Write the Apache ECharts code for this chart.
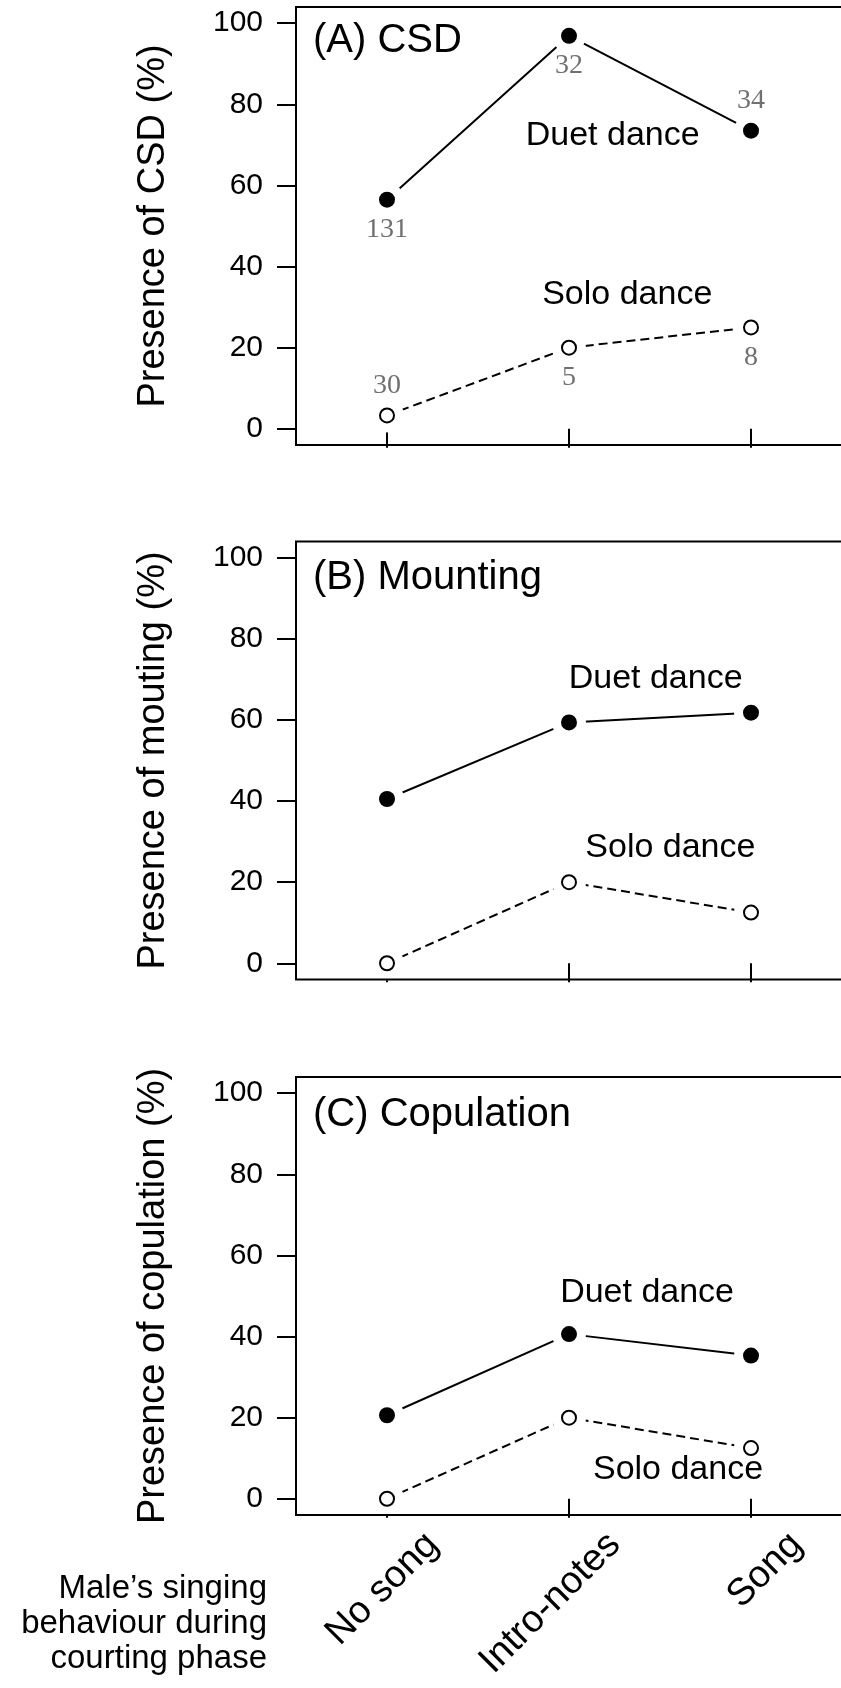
<!DOCTYPE html>
<html lang="en">
<head>
<meta charset="UTF-8">
<title>Courtship dance vs male singing</title>
<style>
  html, body { margin: 0; padding: 0; background: #fff; }
  #chart { width: 841px; height: 1688px; }
</style>
</head>
<body>
<div id="chart"></div>
<script src="https://cdn.jsdelivr.net/npm/echarts@6/dist/echarts.min.js"></script>
<script>
var categories = ['No song', 'Intro-notes', 'Song'];
var yTicks = [0, 20, 40, 60, 80, 100];

// (A) CSD
var csdDuet = [56.5, 96.9, 73.5];
var csdSolo = [3.3, 20, 25];
var csdDuetN = [131, 32, 34];   // sample sizes, grey numbers
var csdSoloN = [30, 5, 8];
// (B) Mounting
var mountDuet = [40.5, 59.4, 61.8];
var mountSolo = [0, 20, 12.5];
// (C) Copulation
var copDuet = [20.6, 40.6, 35.3];
var copSolo = [0, 20, 12.5];

var SANS = '"Liberation Sans", Arial, Helvetica, sans-serif';
var SERIF = '"Liberation Serif", "Times New Roman", serif';

// layout only
var panels = [
  { title: '(A) CSD', yName: 'Presence of CSD (%)', duet: csdDuet, solo: csdSolo,
    duetN: csdDuetN, soloN: csdSoloN, top: 7, titleY: 41,
    duetText: [2.24, 72.4], soloText: [2.32, 33.0] },
  { title: '(B) Mounting', yName: 'Presence of mouting (%)', duet: mountDuet, solo: mountSolo,
    top: 541.5, titleY: 578,
    duetText: [2.476, 70.3], soloText: [2.557, 28.4] },
  { title: '(C) Copulation', yName: 'Presence of copulation (%)', duet: copDuet, solo: copSolo,
    top: 1077, titleY: 1115,
    duetText: [2.429, 50.8], soloText: [2.599, 7.2] }
];
var duetNPos = ['bottom', 'bottom', 'top'];
var soloNPos = ['top', 'bottom', 'bottom'];
var labelShift = 0.25;   // x-labels sit a bit right of the ticks

function pairs(vals) {
  return vals.map(function (v, i) { return [i + 1, v]; });
}

var grids = [], xAxes = [], yAxes = [], series = [], graphics = [];

panels.forEach(function (p, k) {
  var last = k === panels.length - 1;
  grids.push({
    left: 296, top: p.top, width: 546, height: 438,
    show: true, borderColor: '#000', borderWidth: 2, z: 10,
    containLabel: false, outerBoundsMode: 'none'
  });
  xAxes.push({
    type: 'value', gridIndex: k, min: 0.5, max: 3.5,
    axisLine: { show: false },
    splitLine: { show: false },
    axisTick: { show: true, inside: false, length: 19, customValues: [1, 2, 3],
      lineStyle: { color: '#000', width: 2 } },
    axisLabel: {
      show: last, rotate: 45, margin: 24,
      customValues: [1 + labelShift, 2 + labelShift, 3 + labelShift],
      formatter: function (v) { return categories[Math.round(v - labelShift) - 1]; },
      fontFamily: SANS, fontSize: 38, color: '#000'
    }
  });
  yAxes.push({
    type: 'value', gridIndex: k, min: -4, max: 104,
    name: p.yName, nameLocation: 'middle', nameGap: 123,
    nameTextStyle: { fontFamily: SANS, fontSize: 38, color: '#000' },
    axisLine: { show: false },
    splitLine: { show: false },
    axisTick: { show: true, inside: false, length: 19, customValues: yTicks,
      lineStyle: { color: '#000', width: 2 } },
    axisLabel: { customValues: yTicks, margin: 33, fontFamily: SANS, fontSize: 30, color: '#000' }
  });

  [['duet', p.duet, p.duetN, duetNPos], ['solo', p.solo, p.soloN, soloNPos]].forEach(function (s) {
    var isDuet = s[0] === 'duet';
    series.push({
      type: 'line', xAxisIndex: k, yAxisIndex: k, data: pairs(s[1]),
      symbol: 'none', z: 2, silent: true,
      lineStyle: { color: '#000', width: 2, type: isDuet ? 'solid' : [9, 5] }
    });
    // white halo gives the gap between the line and the points
    series.push({
      type: 'scatter', xAxisIndex: k, yAxisIndex: k, data: pairs(s[1]),
      symbolSize: 34, z: 3, silent: true,
      itemStyle: { color: '#fff', opacity: 1 }
    });
    var marks = pairs(s[1]).map(function (d, i) {
      var item = { value: d };
      if (s[2]) {
        item.label = { show: true, position: s[3][i], distance: 8,
          formatter: String(s[2][i]) };
      }
      return item;
    });
    series.push({
      type: 'scatter', xAxisIndex: k, yAxisIndex: k, data: marks,
      symbolSize: isDuet ? 16 : 14, z: 4, silent: true,
      itemStyle: isDuet ? { color: '#000', opacity: 1 }
        : { color: '#fff', borderColor: '#000', borderWidth: 2, opacity: 1 },
      label: { fontFamily: SERIF, fontSize: 28, color: '#707070' }
    });
  });

  series.push({
    type: 'scatter', xAxisIndex: k, yAxisIndex: k, symbolSize: 1, z: 5, silent: true,
    itemStyle: { color: '#fff', opacity: 1 },
    data: [
      { value: p.duetText, name: 'Duet dance' },
      { value: p.soloText, name: 'Solo dance' }
    ],
    label: { show: true, position: 'inside', formatter: '{b}',
      fontFamily: SANS, fontSize: 34, color: '#000', opacity: 1,
      textBorderWidth: 0 }
  });

  graphics.push({
    type: 'text', x: 313, y: p.titleY, z: 100,
    style: { text: p.title, fontFamily: SANS, fontSize: 40, fill: '#000',
      align: 'left', verticalAlign: 'middle' }
  });
});

graphics.push({
  type: 'text', x: 267, y: 1571, z: 100,
  style: { text: 'Male\u2019s singing\nbehaviour during\ncourting phase',
    fontFamily: SANS, fontSize: 33, lineHeight: 35, fill: '#000',
    align: 'right', verticalAlign: 'top' }
});

var chart = echarts.init(document.getElementById('chart'));
chart.setOption({
  animation: false,
  backgroundColor: '#fff',
  grid: grids,
  xAxis: xAxes,
  yAxis: yAxes,
  series: series,
  graphic: graphics
});
</script>
</body>
</html>
